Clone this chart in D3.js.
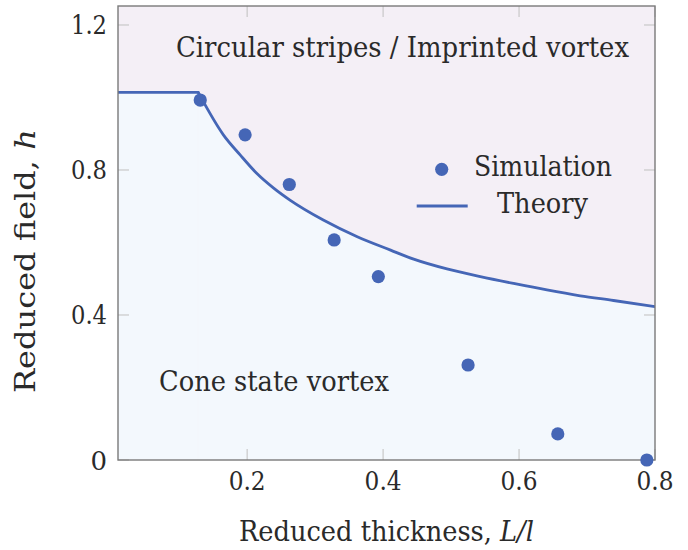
<!DOCTYPE html>
<html>
<head>
<meta charset="utf-8">
<script src="https://cdn.jsdelivr.net/npm/d3@7"></script>
<style>
  html, body { margin: 0; padding: 0; background: #ffffff; }
  svg { display: block; }
</style>
</head>
<body>
<svg id="chart" width="688" height="550"></svg>
<script>
// ---- data ----
const simX = [0.131, 0.197, 0.262, 0.328, 0.393, 0.525, 0.657, 0.788];
const simH = [0.993, 0.897, 0.760, 0.607, 0.506, 0.262, 0.072, 0.0];

// theory boundary: flat plateau, then the decaying branch from the corner on
const theoryX = [0.01, 0.128, 0.165, 0.190, 0.214, 0.239, 0.263, 0.312, 0.362, 0.411,
                 0.445, 0.494, 0.543, 0.592, 0.641, 0.690, 0.739, 0.800];
const theoryH = [1.014, 1.014, 0.897, 0.841, 0.791, 0.750, 0.717, 0.662, 0.616, 0.579,
                 0.554, 0.527, 0.506, 0.487, 0.469, 0.453, 0.440, 0.423];

const xTicks = [0.2, 0.4, 0.6, 0.8];
const xTickLabels = ["0.2", "0.4", "0.6", "0.8"];
const yTicks = [0, 0.4, 0.8, 1.2];
const yTickLabels = ["0", "0.4", "0.8", "1.2"];

const regionLabels = ["Circular stripes / Imprinted vortex", "Cone state vortex"];
const seriesNames = ["Simulation", "Theory"];

// ---- layout ----
const svg = d3.select("#chart")
  .attr("font-family", "'DejaVu Serif', serif");
const plotL = 118, plotR = 655, plotT = 6, plotB = 460;
const blue = "#4566b6";
const textColor = "#2a2a2a";
const upperFill = "#f4eff6";
const lowerFill = "#f3f8fd";
const labelFont = 28;

const x = d3.scaleLinear().domain([0.01, 0.8]).range([plotL, plotR]);
const y = d3.scaleLinear().domain([0, 1.2524]).range([plotB, plotT]);

const theory = theoryX.map((v, i) => ({ x: v, h: theoryH[i] }));
const plateau = theory.slice(0, 2);
const branch = theory.slice(1);
const sim = simX.map((v, i) => ({ x: v, h: simH[i] }));

svg.append("clipPath").attr("id", "plotClip")
  .append("rect").attr("x", plotL).attr("y", plotT)
  .attr("width", plotR - plotL).attr("height", plotB - plotT);

const plot = svg.append("g").attr("clip-path", "url(#plotClip)");

// upper phase region
plot.append("rect")
  .attr("x", plotL).attr("y", plotT)
  .attr("width", plotR - plotL).attr("height", plotB - plotT)
  .attr("fill", upperFill);

// lower phase region, below the theory boundary
const areaLinear = d3.area().x(d => x(d.x)).y0(plotB).y1(d => y(d.h));
const areaSmooth = d3.area().x(d => x(d.x)).y0(plotB).y1(d => y(d.h)).curve(d3.curveMonotoneX);
plot.append("path").datum(plateau).attr("d", areaLinear).attr("fill", lowerFill)
  .attr("stroke", lowerFill).attr("stroke-width", 0.8);
plot.append("path").datum(branch).attr("d", areaSmooth).attr("fill", lowerFill);

// ticks (inward, all four sides)
const tickLen = 11, tickColor = "#c4c4c4";
const ticks = svg.append("g").attr("stroke", tickColor).attr("stroke-width", 1.1);
xTicks.forEach(t => {
  ticks.append("line").attr("x1", x(t)).attr("x2", x(t)).attr("y1", plotB).attr("y2", plotB - tickLen);
  ticks.append("line").attr("x1", x(t)).attr("x2", x(t)).attr("y1", plotT).attr("y2", plotT + tickLen);
});
yTicks.forEach(t => {
  ticks.append("line").attr("x1", plotL).attr("x2", plotL + tickLen).attr("y1", y(t)).attr("y2", y(t));
  ticks.append("line").attr("x1", plotR).attr("x2", plotR - tickLen).attr("y1", y(t)).attr("y2", y(t));
});

// theory line
const lineLinear = d3.line().x(d => x(d.x)).y(d => y(d.h));
const lineSmooth = d3.line().x(d => x(d.x)).y(d => y(d.h)).curve(d3.curveMonotoneX);
plot.append("path").datum(plateau).attr("d", lineLinear)
  .attr("fill", "none").attr("stroke", blue).attr("stroke-width", 2.8).attr("stroke-linecap", "round");
plot.append("path").datum(branch).attr("d", lineSmooth)
  .attr("fill", "none").attr("stroke", blue).attr("stroke-width", 2.8).attr("stroke-linecap", "round");

// frame
svg.append("rect")
  .attr("x", plotL).attr("y", plotT)
  .attr("width", plotR - plotL).attr("height", plotB - plotT)
  .attr("fill", "none").attr("stroke", "#7a7a7a").attr("stroke-width", 1.4);

// simulation points (drawn above the frame)
svg.append("g").selectAll("circle").data(sim).join("circle")
  .attr("cx", d => x(d.x)).attr("cy", d => y(d.h)).attr("r", 6.6)
  .attr("fill", blue);

// helper: set a single-run text's length so it spans a given width
function span(sel, width) {
  return sel.attr("textLength", width).attr("lengthAdjust", "spacingAndGlyphs");
}

// helper: squeeze a multi-run text horizontally to a given width
function squeeze(sel, width, place) {
  const w = sel.node().getComputedTextLength();
  const sx = w > 0 ? width / w : 1;
  sel.attr("transform", `${place} scale(${sx},1)`);
  return sel;
}

// tick labels
svg.append("g").attr("fill", textColor).selectAll("text").data(xTicks).join("text")
  .attr("x", d => x(d)).attr("y", 490)
  .attr("text-anchor", "middle").attr("font-size", 26)
  .attr("textLength", 37).attr("lengthAdjust", "spacingAndGlyphs")
  .text((d, i) => xTickLabels[i]);
svg.append("g").attr("fill", textColor).selectAll("text").data(yTicks).join("text")
  .attr("x", 107).attr("y", d => y(d) + 9.5)
  .attr("text-anchor", "end").attr("font-size", 26)
  .each(function (d, i) {
    if (yTickLabels[i].length > 1) d3.select(this).attr("textLength", 36).attr("lengthAdjust", "spacingAndGlyphs");
  })
  .text((d, i) => yTickLabels[i]);

const labels = svg.append("g").attr("fill", textColor).attr("font-size", labelFont);

// region labels
span(labels.append("text").attr("x", 176).attr("y", 57).text(regionLabels[0]), 453);
span(labels.append("text").attr("x", 159).attr("y", 391).text(regionLabels[1]), 230);

// legend
svg.append("circle").attr("cx", 441.7).attr("cy", 169.3).attr("r", 6.6).attr("fill", blue);
span(labels.append("text").attr("x", 474).attr("y", 176).text(seriesNames[0]), 138);
svg.append("line").attr("x1", 416.7).attr("x2", 467.7).attr("y1", 206).attr("y2", 206)
  .attr("stroke", blue).attr("stroke-width", 2.8);
span(labels.append("text").attr("x", 497).attr("y", 213).text(seriesNames[1]), 91);

// axis titles
const xt = labels.append("text");
xt.append("tspan").text("Reduced thickness, ");
xt.append("tspan").attr("font-style", "italic").text("L/l");
squeeze(xt, 295, "translate(239,541)");

const yt = labels.append("text");
yt.append("tspan").text("Reduced field, ");
yt.append("tspan").attr("font-style", "italic").text("h");
squeeze(yt, 264, "translate(35,393) rotate(-90)");
</script>
</body>
</html>
